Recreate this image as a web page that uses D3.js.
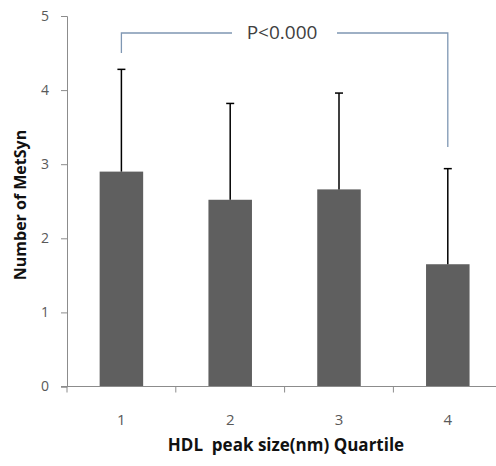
<!DOCTYPE html>
<html lang="en">
<head>
  <meta charset="utf-8">
  <title>MetSyn by HDL peak size quartile</title>
  <script src="https://d3js.org/d3.v7.min.js"></script>
  <style>
    body { margin: 0; background: #fff; }
    text { font-family: "Open Sans", "Noto Sans", sans-serif; }
  </style>
</head>
<body>
  <script>
    // data
    var quartiles = ["1", "2", "3", "4"];
    var means = [2.90, 2.52, 2.66, 1.65];
    var sds = [1.38, 1.30, 1.30, 1.29];
    var yTicks = [0, 1, 2, 3, 4, 5];

    var width = 496, height = 466;
    var margin = {top: 16, left: 67};
    var plotBottom = 386.5;
    var band = 108.8;

    var svg = d3.select("body").append("svg")
        .attr("width", width)
        .attr("height", height);

    var x = d3.scaleBand()
        .domain(quartiles)
        .range([margin.left, margin.left + 4 * band])
        .paddingInner(0.6)
        .paddingOuter(0.3);

    var y = d3.scaleLinear()
        .domain([0, 5])
        .range([plotBottom, margin.top]);

    // bars
    svg.append("g").selectAll("rect")
        .data(means)
        .join("rect")
        .attr("x", (d, i) => x(quartiles[i]))
        .attr("y", d => y(d))
        .attr("width", x.bandwidth())
        .attr("height", d => y(0) - y(d))
        .attr("fill", "#5f5f5f");

    // error bars (upper only)
    var err = svg.append("g").attr("stroke", "#000").attr("stroke-width", 1.5);
    means.forEach(function(m, i) {
      var cx = x(quartiles[i]) + x.bandwidth() / 2;
      err.append("line")
          .attr("x1", cx).attr("x2", cx)
          .attr("y1", y(m)).attr("y2", y(m + sds[i]));
      err.append("line")
          .attr("x1", cx - 4).attr("x2", cx + 4)
          .attr("y1", y(m + sds[i])).attr("y2", y(m + sds[i]));
    });

    // y axis
    var yAxis = svg.append("g")
        .attr("transform", "translate(" + margin.left + ",0)")
        .call(d3.axisLeft(y).tickValues(yTicks).tickFormat(d3.format("d")).tickSize(6).tickPadding(12));
    yAxis.select(".domain").attr("stroke", "#8c8c8c");
    yAxis.selectAll(".tick line").attr("stroke", "#8c8c8c");
    yAxis.selectAll(".tick text")
        .attr("fill", "#595959")
        .attr("font-size", 14);

    // x axis: ticks between categories, Excel style
    var xEdges = d3.range(0, 5).map(i => margin.left + i * band);
    var xAxis = svg.append("g");
    xAxis.append("line")
        .attr("x1", margin.left - 6).attr("x2", width)
        .attr("y1", plotBottom).attr("y2", plotBottom)
        .attr("stroke", "#8c8c8c");
    xAxis.selectAll("line.tk")
        .data(xEdges)
        .join("line")
        .attr("class", "tk")
        .attr("x1", d => d).attr("x2", d => d)
        .attr("y1", plotBottom).attr("y2", plotBottom + 6)
        .attr("stroke", "#8c8c8c");
    xAxis.selectAll("text")
        .data(quartiles)
        .join("text")
        .attr("x", d => x(d) + x.bandwidth() / 2)
        .attr("y", 425)
        .attr("text-anchor", "middle")
        .attr("fill", "#595959")
        .attr("font-size", 15)
        .text(d => d);

    // axis titles
    svg.append("text")
        .attr("x", 286)
        .attr("y", 451)
        .attr("text-anchor", "middle")
        .attr("font-weight", "bold")
        .attr("font-size", 17)
        .attr("fill", "#111")
        .style("white-space", "pre")
        .text("HDL  peak size(nm) Quartile");

    svg.append("text")
        .attr("transform", "translate(26,205) rotate(-90)")
        .attr("text-anchor", "middle")
        .attr("font-weight", "bold")
        .attr("font-size", 16)
        .attr("fill", "#111")
        .text("Number of MetSyn");

    // significance bracket between quartile 1 and 4
    var bx1 = x("1") + x.bandwidth() / 2, bx2 = x("4") + x.bandwidth() / 2;
    var by = 33;
    var bracket = svg.append("g")
        .attr("stroke", "#7f97b3")
        .attr("stroke-width", 1.3)
        .attr("fill", "none");
    bracket.append("path")
        .attr("d", "M" + bx1 + "," + 53 + "L" + bx1 + "," + by + "L232," + by);
    bracket.append("path")
        .attr("d", "M337," + by + "L" + bx2 + "," + by + "L" + bx2 + "," + 147);
    svg.append("text")
        .attr("x", 282)
        .attr("y", 39)
        .attr("text-anchor", "middle")
        .attr("font-size", 19)
        .attr("fill", "#404040")
        .text("P<0.000");
  </script>
</body>
</html>
